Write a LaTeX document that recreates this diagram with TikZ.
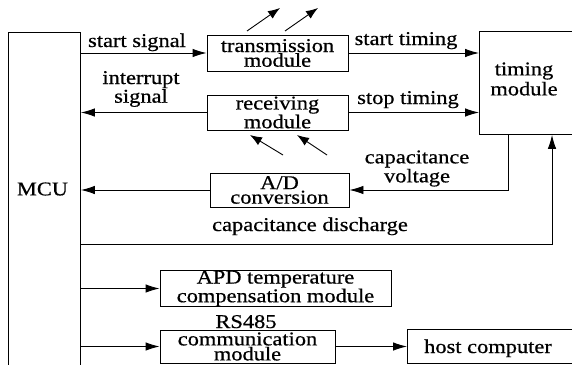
\documentclass[tikz,border=0pt]{standalone}
\usepackage{fontspec}
\setmainfont{Liberation Serif}
\newfontfamily\labfont[FakeStretch=1.15,FakeBold=0.6]{Liberation Serif}
\usetikzlibrary{arrows.meta}
\begin{document}
\begin{tikzpicture}[x=1pt,y=-1pt,
  line width=0.9pt,
  arr/.style={-{Latex[length=14pt,width=8.5pt]}},
  ray/.style={-{Latex[length=12pt,width=9pt]}},
  frame/.style={draw, line width=0.9pt, inner sep=0pt},
  blk/.style={frame, align=center, font=\labfont\fontsize{19.5}{13.5}\selectfont},
  lab/.style={inner sep=0pt, align=center, font=\labfont\fontsize{19.5}{17}\selectfont},
]
\clip (0,0) rectangle (572,364);

% main blocks
\node[frame, minimum width=72pt, minimum height=420pt, anchor=north west] (mcu) at (8,32) {};
\node[lab] (mcutxt) at (42.5,189) {MCU};

\node[blk, minimum width=141pt, minimum height=36pt] (trans) at (277.5,53) {transmission\\module};
\node[blk, minimum width=141pt, minimum height=35pt] (recv) at (277.5,112.5) {receiving\\module};
\node[blk, minimum width=139pt, minimum height=34pt, font=\labfont\fontsize{19.5}{14.5}\selectfont] (ad) at (279.5,190) {A/D\\conversion};
\node[blk, minimum width=231pt, minimum height=33pt, font=\labfont\fontsize{19.5}{14}\selectfont] (apd) at (275.5,288.5) {APD temperature\\compensation module};
\node[blk, minimum width=175pt, minimum height=33pt, font=\labfont\fontsize{19.5}{15}\selectfont] (comm) at (247.5,346.5) {communication\\module};

\node[frame, minimum width=121pt, minimum height=103pt, anchor=north west] (tim) at (479,31) {};
\node[inner sep=0pt, align=center, font=\labfont\fontsize{19.5}{20}\selectfont] (timtxt) at (524,79) {timing\\module};

\node[frame, minimum width=200pt, minimum height=34pt, anchor=north west] (host) at (407,329) {};
\node[lab, anchor=base] (hosttxt) at (488,353) {host computer};

% labels
\node[lab, anchor=base] (l1) at (137,47) {start signal};
\node[lab] (l2) at (141,89) {interrupt\\signal};
\node[lab, anchor=base] (l3) at (406,45) {start timing};
\node[lab, anchor=base] (l4) at (408,104) {stop timing};
\node[lab, font=\labfont\fontsize{19.5}{19}\selectfont] (l5) at (417,168.5) {capacitance\\voltage};
\node[lab, anchor=base] (l6) at (310,231) {capacitance discharge};
\node[lab, anchor=base] (l7) at (246,328) {RS485};

% connectors
\draw[arr] (mcu.east |- trans.west) -- (trans.west);
\draw[arr] (recv.west) -- (recv.west -| mcu.east);
\draw[arr] (trans.east) -- (trans.east -| tim.west);
\draw[arr] (recv.east) -- (recv.east -| tim.west);
\coordinate (cvtop) at ([xshift=29pt]tim.south west);
\draw[arr] (cvtop) |- (ad.east);
\draw[arr] (ad.west) -- (ad.west -| mcu.east);
\coordinate (cdtop) at ([xshift=73pt]tim.south west);
\coordinate (cdleft) at (mcu.east |- 0,244);
\draw[arr] (cdleft) -| (cdtop);
\draw[arr] (mcu.east |- apd.west) -- (apd.west);
\draw[arr] (mcu.east |- comm.west) -- (comm.west);
\draw[arr] (comm.east) -- (comm.east -| host.west);

% light rays
\coordinate (r1s) at (247,31); \coordinate (r1e) at (280,8);
\coordinate (r2s) at (285,31); \coordinate (r2e) at (318,8);
\coordinate (r3s) at (283,155); \coordinate (r3e) at (250,135);
\coordinate (r4s) at (327,155); \coordinate (r4e) at (297,135);
\draw[ray] (r1s) -- (r1e);
\draw[ray] (r2s) -- (r2e);
\draw[ray] (r3s) -- (r3e);
\draw[ray] (r4s) -- (r4e);
\end{tikzpicture}
\end{document}
